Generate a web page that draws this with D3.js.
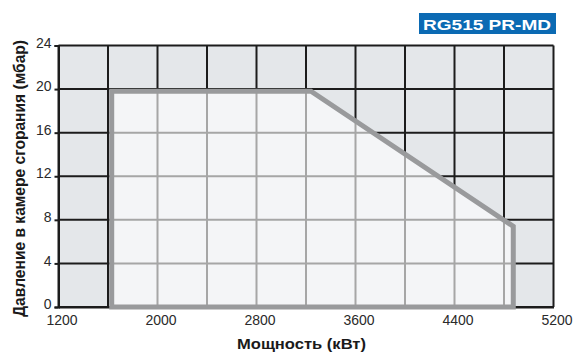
<!DOCTYPE html>
<html>
<head>
<meta charset="utf-8">
<script src="https://cdn.jsdelivr.net/npm/d3@7"></script>
<style>
  body { margin: 0; background: #fff; }
  svg { display: block; font-family: "Liberation Sans", Arial, sans-serif; }
</style>
</head>
<body>
<svg width="575" height="352"></svg>
<script>
// chart values
const chartTitle = "RG515 PR-MD";
const xTicks = [1200, 1600, 2000, 2400, 2800, 3200, 3600, 4000, 4400, 4800, 5200];
const xLabels = [1200, 2000, 2800, 3600, 4400, 5200];
const yTicks = [0, 4, 8, 12, 16, 20, 24];
const envelopePower = [1630, 1630, 3240, 4875, 4875];
const envelopePressure = [0, 19.8, 19.8, 7.4, 0];
const xTitle = "Мощность (кВт)";
const yTitle = "Давление в камере сгорания (мбар)";

const svg = d3.select("svg");
const x = d3.scaleLinear().domain([1200, 5200]).range([58.5, 553.5]);
const y = d3.scaleLinear().domain([0, 24]).range([307, 45.5]);

const envelope = envelopePower.map((p, i) => [p, envelopePressure[i]]);
const line = d3.line().x(d => x(d[0])).y(d => y(d[1]));

// outer area
svg.append("rect")
  .attr("x", x(1200)).attr("y", y(24))
  .attr("width", x(5200) - x(1200)).attr("height", y(0) - y(24))
  .attr("fill", "#e4e7ea");

svg.append("clipPath").attr("id", "env")
  .append("path").attr("d", line(envelope) + "Z");

// dark grid
const grid = svg.append("g");
grid.selectAll("line.v").data(xTicks).enter().append("line")
  .attr("x1", d => x(d)).attr("x2", d => x(d))
  .attr("y1", y(0)).attr("y2", y(24))
  .attr("stroke", "#1c1c1c").attr("stroke-width", 2);
grid.selectAll("line.h").data(yTicks).enter().append("line")
  .attr("y1", d => y(d)).attr("y2", d => y(d))
  .attr("x1", x(1200)).attr("x2", x(5200))
  .attr("stroke", "#1c1c1c").attr("stroke-width", 2);

// axes
const yAxis = svg.append("g")
  .attr("transform", `translate(${x(1200)},0)`)
  .call(d3.axisLeft(y).tickValues(yTicks).tickSize(4).tickPadding(3).tickFormat(d3.format("d")));
yAxis.select(".domain").attr("stroke", "#1c1c1c").attr("stroke-width", 2);
yAxis.selectAll(".tick line").attr("stroke", "#1c1c1c").attr("stroke-width", 2);
yAxis.selectAll(".tick text")
  .attr("font-size", 14).attr("fill", "#2a2a2a").attr("dy", "0.12em")
  .style("font-family", "Liberation Sans, Arial, sans-serif");

const xAxis = svg.append("g")
  .attr("transform", `translate(0,${y(0)})`)
  .call(d3.axisBottom(x).tickValues(xLabels).tickSize(0).tickPadding(8).tickFormat(d3.format("d")));
xAxis.select(".domain").attr("stroke", "#1c1c1c").attr("stroke-width", 2);
xAxis.selectAll(".tick text")
  .attr("font-size", 14).attr("fill", "#2a2a2a").attr("dx", 3)
  .style("font-family", "Liberation Sans, Arial, sans-serif");

// inner fill + light grid clipped to envelope
const inner = svg.append("g").attr("clip-path", "url(#env)");
inner.append("rect")
  .attr("x", 0).attr("y", 0).attr("width", 575).attr("height", 352)
  .attr("fill", "#f4f5f7");
inner.selectAll("line.v").data(xTicks).enter().append("line")
  .attr("x1", d => x(d)).attr("x2", d => x(d))
  .attr("y1", y(0)).attr("y2", y(24))
  .attr("stroke", "#a6a6a6").attr("stroke-width", 2);
inner.selectAll("line.h").data(yTicks).enter().append("line")
  .attr("y1", d => y(d)).attr("y2", d => y(d))
  .attr("x1", x(1200)).attr("x2", x(5200))
  .attr("stroke", "#a6a6a6").attr("stroke-width", 2);

// envelope outline
svg.append("path")
  .attr("d", line(envelope) + "Z")
  .attr("fill", "none")
  .attr("stroke", "#999a9c")
  .attr("stroke-width", 5)
  .attr("stroke-linejoin", "miter");

// axis titles
svg.append("text")
  .attr("x", 237).attr("y", 349)
  .attr("textLength", 129).attr("lengthAdjust", "spacingAndGlyphs")
  .attr("font-size", 15).attr("font-weight", "bold").attr("fill", "#1a1a1a")
  .text(xTitle);

svg.append("text")
  .attr("transform", "translate(24.5,317) rotate(-90)")
  .attr("textLength", 277).attr("lengthAdjust", "spacingAndGlyphs")
  .attr("font-size", 16).attr("font-weight", "bold").attr("fill", "#1a1a1a")
  .text(yTitle);

// title badge
svg.append("rect")
  .attr("x", 419).attr("y", 13).attr("width", 137).attr("height", 21)
  .attr("fill", "#0b6ab3");
svg.append("text")
  .attr("x", 423).attr("y", 29.5)
  .attr("textLength", 128).attr("lengthAdjust", "spacingAndGlyphs")
  .attr("font-size", 15.5).attr("font-weight", "bold").attr("fill", "#fff")
  .text(chartTitle);
</script>
</body>
</html>
